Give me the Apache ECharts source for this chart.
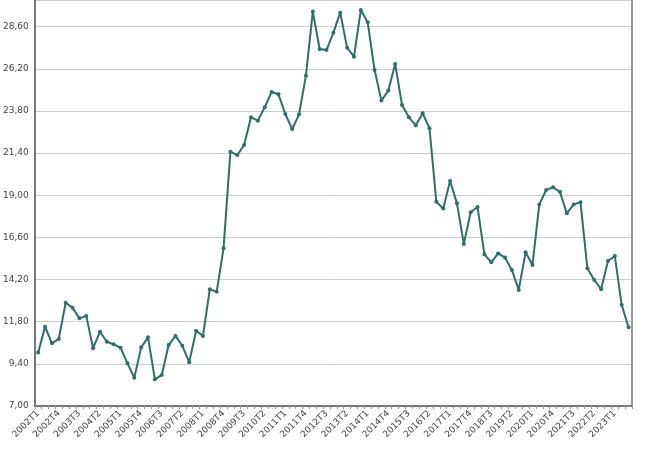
<!DOCTYPE html>
<html>
<head>
<meta charset="utf-8">
<script src="https://cdn.jsdelivr.net/npm/echarts@6/dist/echarts.min.js"></script>
<style>html,body{margin:0;padding:0;background:#fff}#chart{width:650px;height:455px}</style>
</head>
<body>
<div id="chart"></div>
<script>
var years = [];
for (var y = 2002; y <= 2023; y++) { years.push(y); }
var quarters = [];
years.forEach(function (y) {
    ['T1', 'T2', 'T3', 'T4'].forEach(function (q) { quarters.push(y + q); });
});
quarters = quarters.slice(0, 87); // ends at 2023T3

var values = [
    10.04, 11.52, 10.57, 10.82, 12.88, 12.60, 11.99, 12.13,
    10.29, 11.23, 10.66, 10.51, 10.32, 9.43, 8.61, 10.34,
    10.91, 8.52, 8.77, 10.47, 10.99, 10.43, 9.49, 11.29,
    10.99, 13.65, 13.51, 15.98, 21.48, 21.29, 21.86, 23.44,
    23.25, 24.01, 24.88, 24.75, 23.63, 22.77, 23.61, 25.81,
    29.46, 27.33, 27.27, 28.26, 29.40, 27.40, 26.89, 29.55,
    28.85, 26.13, 24.39, 24.96, 26.48, 24.14, 23.44, 22.98,
    23.67, 22.81, 18.63, 18.24, 19.81, 18.54, 16.23, 18.03,
    18.33, 15.64, 15.18, 15.69, 15.45, 14.75, 13.61, 15.75,
    15.03, 18.48, 19.30, 19.45, 19.20, 17.97, 18.48, 18.60,
    14.84, 14.18, 13.65, 15.26, 15.54, 12.75, 11.48
];

var myChart = echarts.init(document.getElementById('chart'));
var option = {
    animation: false,
    grid: { left: 33, right: 18, top: 0, bottom: 49 },
    xAxis: {
        type: 'category',
        data: quarters,
        boundaryGap: true,
        axisLine: { lineStyle: { color: '#777', width: 2 } },
        axisTick: { show: true, interval: 0, length: 3, lineStyle: { color: '#999' } },
        axisLabel: { interval: 2, rotate: 45, fontSize: 9, color: '#444', fontFamily: 'DejaVu Sans', margin: 6 }
    },
    yAxis: [{
        type: 'value',
        min: 7,
        max: 30.12,
        interval: 2.4,
        axisLine: { show: true, lineStyle: { color: '#777', width: 2 } },
        axisTick: { show: false },
        splitLine: { lineStyle: { color: '#ccc' } },
        axisLabel: {
            showMaxLabel: false, fontSize: 9, color: '#444', fontFamily: 'DejaVu Sans', margin: 6,
            formatter: function (v) { return v.toFixed(2).replace('.', ','); }
        }
    }, {
        type: 'value', position: 'right', min: 7, max: 30.12,
        axisLine: { show: true, lineStyle: { color: '#999', width: 2 } },
        axisLabel: { show: false }, axisTick: { show: false }, splitLine: { show: false }
    }],
    series: [{
        type: 'line',
        data: values,
        symbol: 'circle',
        symbolSize: 4,
        lineStyle: { color: '#2f6e6a', width: 2 },
        itemStyle: { color: '#2f6e6a' }
    }]
};
myChart.setOption(option);
</script>
</body>
</html>
